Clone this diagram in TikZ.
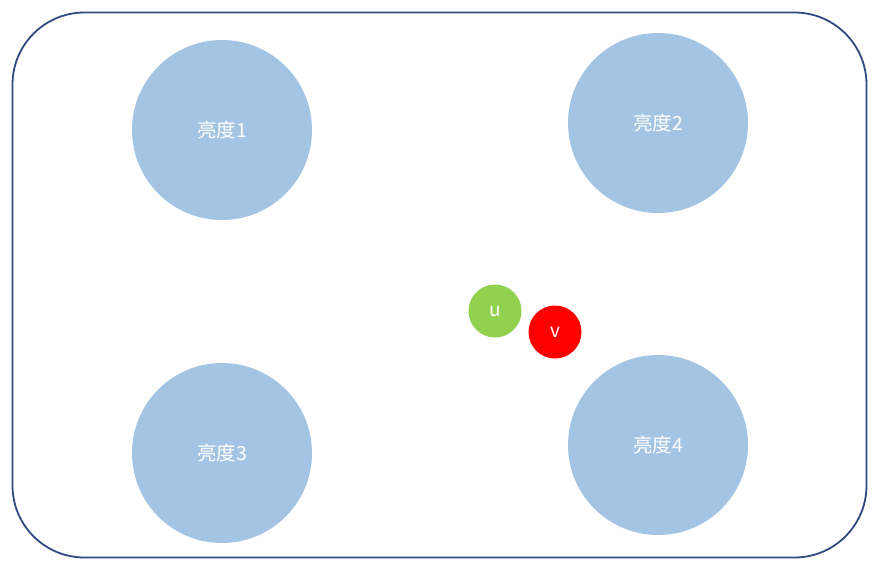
\documentclass[tikz,border=0pt]{standalone}
\usepackage{fontspec}
\setmainfont{Liberation Sans}
\newfontfamily\cjk{Noto Sans CJK SC}
\definecolor{frame}{HTML}{2F4A80}
\definecolor{bluefill}{HTML}{A3C4E2}
\definecolor{greenfill}{HTML}{92D050}
\begin{document}
\begin{tikzpicture}[x=1pt,y=-1pt,
  big/.style={circle,fill=bluefill,minimum size=180pt,inner sep=0pt,text=white,font=\cjk\fontsize{19.5}{22}\selectfont},
  small/.style={circle,minimum size=53pt,inner sep=0pt,text=white,font=\cjk\fontsize{19}{22}\selectfont}]
\useasboundingbox (0,0) rectangle (878,568);
\draw[frame,line width=1.8pt,rounded corners=72pt] (12.5,12.5) rectangle (866.5,557.5);
\node[big] (b1) at (222,130) {亮度1};
\node[big] (b2) at (658,123) {亮度2};
\node[big] (b3) at (222,453) {亮度3};
\node[big] (b4) at (658,445) {亮度4};
\node[small,fill=greenfill] (u) at (495,311) {u};
\node[small,fill=red] (v) at (555,332) {v};
\end{tikzpicture}
\end{document}
